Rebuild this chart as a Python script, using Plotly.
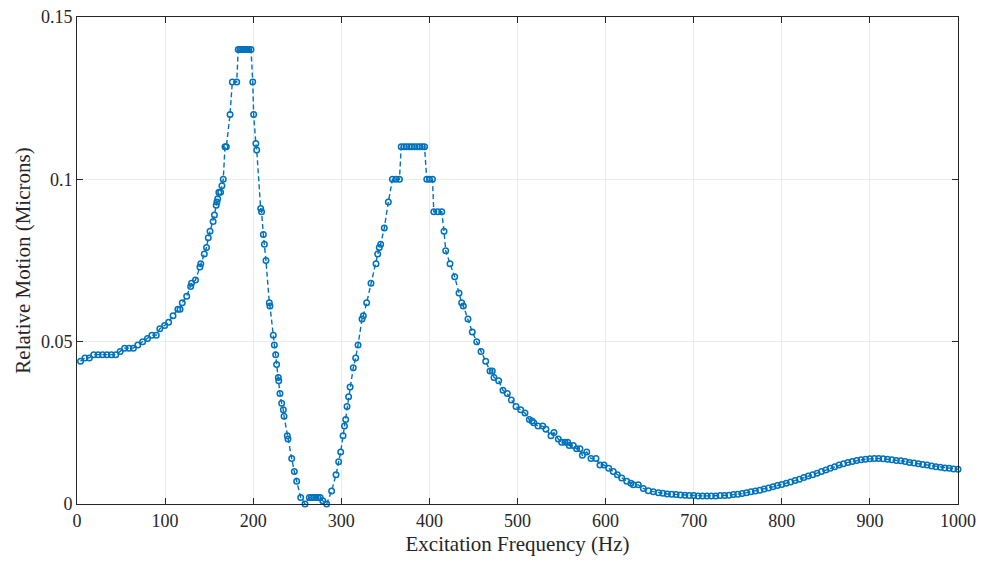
import plotly.graph_objects as go

# Excitation frequency (Hz) and relative motion (microns)
freq = [
    4, 9, 14, 19, 24, 29, 34, 39, 44, 49, 54, 59, 64, 69, 74.5, 80, 85, 90, 94, 99.5,
    104, 109, 114.5, 117, 119.5, 124.5, 129, 130, 134.5, 139.5, 140.5, 144.5, 147, 149, 151,
    154.5, 156, 158, 158.8, 159.7, 161, 163, 164.5, 166, 168, 169.5, 173.7, 176.3, 181.3,
    183, 185, 187, 189, 191, 193, 195, 197.5, 199.5, 200.5, 203, 204, 208.5, 209.5,
    211.5, 212.7, 214.5, 218.3, 219, 222.8, 224, 225.5, 226.6, 228.5, 229, 230.4, 232.3,
    234.2, 235, 238.7, 239.5, 243.7, 246.7, 249.3, 253.9, 258.8, 263.7, 266, 268.5, 271.3,
    273.5, 276, 278.9, 283.4, 289, 294, 297, 299.3, 302, 303.6, 305, 306.5, 308.3, 310,
    313.6, 316.3, 319, 323.5, 325, 328.8, 333.7, 339.4, 341.3, 343.1, 344.7, 348.8, 353.4,
    358, 362, 366, 368, 371, 374, 377, 380, 383, 386, 389, 392, 394.5, 397, 400, 403.5,
    405, 409.4, 414, 416.6, 418.5, 423.4, 428.7, 433.6, 436.6, 438.5, 443.8, 448.7, 453.7,
    458.6, 463.9, 468.8, 471.4, 473.3, 478.6, 483.5, 488.4, 493, 498.3, 503.6, 508.5,
    513.4, 516.5, 518.4, 523.3, 528.6, 532.3, 538, 541.4, 546.3, 550.1, 553.9, 556.9,
    558.8, 563.3, 567.1, 570.9, 573.6, 578.6, 583.4, 589.1, 593.6, 598.2, 603.5, 608.7,
    613.3, 618.3, 624, 628.8, 631.4, 637.1, 642.8, 648.5, 654.2,
    660, 665, 670, 675, 680, 685, 690, 695, 700, 705, 710, 715, 720, 725, 730, 735, 740,
    745, 750, 755, 760, 765, 770, 775, 780, 785, 790, 795, 800, 805, 810, 815, 820, 825,
    830, 835, 840, 845, 850, 855, 860, 865, 870, 875, 880, 885, 890, 895, 900, 905, 910,
    915, 920, 925, 930, 935, 940, 945, 950, 955, 960, 965, 970, 975, 980, 985, 990, 995, 1000,
]
motion = [
    0.044, 0.045, 0.045, 0.046, 0.046, 0.046, 0.046, 0.046, 0.046, 0.047, 0.048, 0.048, 0.048,
    0.049, 0.050, 0.051, 0.052, 0.052, 0.054, 0.055,
    0.056, 0.058, 0.060, 0.060, 0.062, 0.064, 0.067, 0.068, 0.069, 0.073, 0.074, 0.077, 0.079,
    0.082, 0.084,
    0.087, 0.089, 0.092, 0.093, 0.094, 0.096, 0.096, 0.098, 0.100, 0.110, 0.110, 0.120, 0.130,
    0.130,
    0.140, 0.140, 0.140, 0.140, 0.140, 0.140, 0.140, 0.140, 0.130, 0.120, 0.111, 0.109,
    0.091, 0.090,
    0.083, 0.080, 0.075, 0.062, 0.061, 0.052, 0.049, 0.046, 0.043, 0.039, 0.038, 0.034, 0.031,
    0.029, 0.027, 0.021, 0.020, 0.014, 0.010, 0.007, 0.002, 0.000, 0.002, 0.002, 0.002, 0.002,
    0.002, 0.002, 0.001, 0.000, 0.004, 0.009, 0.013, 0.016, 0.021, 0.024, 0.026, 0.030, 0.033,
    0.036,
    0.042, 0.045, 0.049, 0.057, 0.058, 0.062, 0.068, 0.074, 0.077, 0.079, 0.080, 0.085, 0.093,
    0.100, 0.100, 0.100, 0.110, 0.110, 0.110, 0.110, 0.110, 0.110, 0.110, 0.110, 0.110, 0.110,
    0.100, 0.100, 0.100,
    0.090, 0.090, 0.090, 0.084, 0.078, 0.074, 0.070, 0.065, 0.062, 0.061, 0.057, 0.053, 0.050,
    0.047, 0.044, 0.041, 0.041, 0.039, 0.038, 0.035, 0.034, 0.032, 0.030, 0.029, 0.028,
    0.026, 0.0256, 0.025, 0.024, 0.024, 0.023, 0.021, 0.022, 0.020, 0.019, 0.019, 0.019,
    0.018, 0.018, 0.017, 0.017, 0.015, 0.016, 0.014, 0.014, 0.012, 0.012, 0.011, 0.010,
    0.009, 0.008, 0.007, 0.0064, 0.0059, 0.0059, 0.0048, 0.0041, 0.0038,
    0.0035, 0.0033, 0.0031, 0.0030, 0.0029, 0.0028, 0.0027, 0.0026, 0.0026, 0.0025, 0.0025,
    0.0025, 0.0025, 0.0025, 0.0026, 0.0026, 0.0027,
    0.0029, 0.0030, 0.0032, 0.0035, 0.0038, 0.0040, 0.0042, 0.0046, 0.0049, 0.0053, 0.0057,
    0.0060, 0.0064, 0.0068, 0.0072, 0.0076, 0.0082,
    0.0086, 0.0090, 0.0095, 0.0100, 0.0105, 0.0110, 0.0115, 0.0120, 0.0124, 0.0128, 0.0131,
    0.0134, 0.0136, 0.0138, 0.0139, 0.0140, 0.0140,
    0.0139, 0.0138, 0.0136, 0.0134, 0.0133, 0.0131, 0.0128, 0.0126, 0.0124, 0.0122, 0.0120,
    0.0117, 0.0115, 0.0113, 0.0111, 0.0110, 0.0108, 0.0107,
]

x_ticks = [0, 100, 200, 300, 400, 500, 600, 700, 800, 900, 1000]
y_ticks = [0, 0.05, 0.1, 0.15]
y_tick_text = ["0", "0.05", "0.1", "0.15"]

BLUE = "#0072BD"
AX = "#262626"
FONT = "Liberation Serif"

fig = go.Figure()
fig.add_trace(go.Scatter(
    x=freq, y=motion, mode="lines+markers",
    line=dict(color=BLUE, width=1.4, dash="5px,3px"),
    marker=dict(symbol="circle-open", size=5.5, color=BLUE, line=dict(width=1.5, color=BLUE)),
    showlegend=False, cliponaxis=False,
))

axis_common = dict(
    showline=True, linecolor=AX, linewidth=1, mirror="ticks",
    ticks="inside", ticklen=6, tickcolor=AX, tickwidth=1,
    showgrid=True, gridcolor="#ebebeb", gridwidth=1,
    zeroline=False, automargin=False,
    tickfont=dict(family=FONT, size=18, color=AX),
)

fig.update_xaxes(
    range=[0, 1000], tickvals=x_ticks,
    title=dict(text="Excitation Frequency (Hz)", font=dict(family=FONT, size=21, color=AX), standoff=6),
    **axis_common,
)
fig.update_yaxes(
    range=[0, 0.15], tickvals=y_ticks, ticktext=y_tick_text,
    title=dict(text="Relative Motion (Microns)", font=dict(family=FONT, size=21, color=AX), standoff=4),
    **axis_common,
)

fig.update_layout(
    width=990, height=563,
    margin=dict(l=77, r=32, t=17, b=59, autoexpand=False),
    paper_bgcolor="white", plot_bgcolor="white",
    font=dict(family=FONT),
)

fig.write_html("out.html")
